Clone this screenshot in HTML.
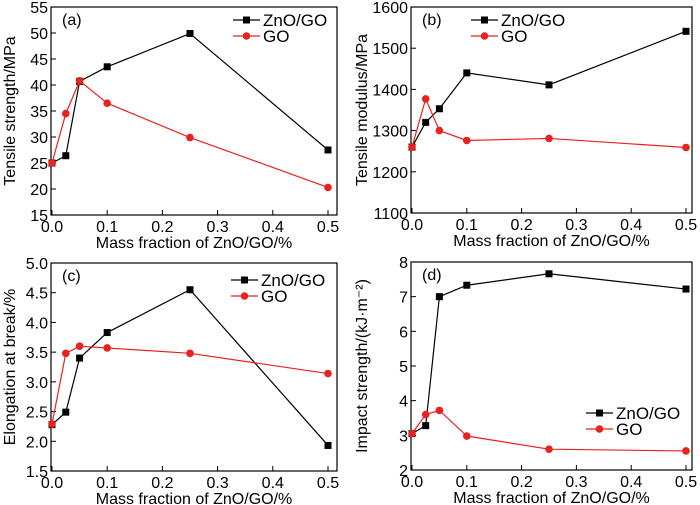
<!DOCTYPE html>
<html><head><meta charset="utf-8"><style>
html,body{margin:0;padding:0;background:#fff;}
svg{display:block;font-family:"Liberation Sans",Arial,sans-serif;}
</style></head><body>
<svg id="fig" width="700" height="505" viewBox="0 0 700 505"></svg>
<script>
const xValues=[0,0.025,0.05,0.1,0.25,0.5];
const xTicks=[0,0.1,0.2,0.3,0.4,0.5];
const aZnO=[25,26.4,40.7,43.5,49.9,27.5];
const aGO=[25,34.5,40.8,36.5,29.9,20.3];
const aTicks=[15,20,25,30,35,40,45,50,55];
const bZnO=[1260,1320,1353,1440,1411,1541];
const bGO=[1260,1377,1300,1276,1281,1259];
const bTicks=[1100,1200,1300,1400,1500,1600];
const cZnO=[2.28,2.49,3.40,3.83,4.55,1.93];
const cGO=[2.29,3.48,3.60,3.57,3.48,3.14];
const cTicks=[1.5,2.0,2.5,3.0,3.5,4.0,4.5,5.0];
const dZnO=[3.05,3.28,7.0,7.33,7.66,7.22];
const dGO=[3.05,3.6,3.72,2.98,2.6,2.55];
const dTicks=[2,3,4,5,6,7,8];

const NS="http://www.w3.org/2000/svg";
const svg=document.getElementById('fig');
function el(tag,attrs,parent,text){const e=document.createElementNS(NS,tag);for(const k in attrs)e.setAttribute(k,attrs[k]);if(text!==undefined)e.textContent=text;(parent||svg).appendChild(e);return e;}

const panels=[
 {id:'a',L:51,R:337,T:7,B:215,x5:328,ticks:aTicks,dec:0,zn:aZnO,go:aGO,ylab:'Tensile strength/MPa',yl:10,lg:[233,20]},
 {id:'b',L:411,R:692,T:7,B:213,x5:686,ticks:bTicks,dec:0,zn:bZnO,go:bGO,ylab:'Tensile modulus/MPa',yl:362,lg:[471,20]},
 {id:'c',L:51,R:337,T:263,B:471,x5:328,ticks:cTicks,dec:1,zn:cZnO,go:cGO,ylab:'Elongation at break/%',yl:10,lg:[231,280]},
 {id:'d',L:411,R:692,T:262,B:470,x5:686,ticks:dTicks,dec:0,zn:dZnO,go:dGO,ylab:'Impact strength/(kJ·m⁻²)',yl:362,lg:[586,413]}
];
panels.forEach(p=>{
 const g=el('g',{},svg);
 
 
 const x0=p.L+1;
 const xs=v=>x0+(p.x5-x0)*v/0.5;
 const ymin=p.ticks[0],ymax=p.ticks[p.ticks.length-1];
 const ys=v=>p.B-(p.B-p.T)*(v-ymin)/(ymax-ymin);
 const frame=el('rect',{x:p.L,y:p.T,width:p.R-p.L,height:p.B-p.T,fill:'none',stroke:'#000','stroke-width':1.2},g);
 
 
 p.ticks.forEach(t=>{
  const y=ys(t);
  el('line',{x1:p.L,x2:p.L+5,y1:y,y2:y,stroke:'#000','stroke-width':1},g);
  const tl=el('text',{x:p.L-3,y:y+6,'text-anchor':'end','font-size':16},g,t.toFixed(p.dec));
  
  
 });
 xTicks.forEach(t=>{
  const x=xs(t);
  el('line',{x1:x,x2:x,y1:p.B,y2:p.B-5,stroke:'#000','stroke-width':1},g);
  const tl=el('text',{x:x,y:p.B+17,'text-anchor':'middle','font-size':16},g,t.toFixed(1));
  
  
 });
 const xl=el('text',{x:(p.L+p.R)/2,y:p.B+33,'text-anchor':'middle','font-size':16},g,'Mass fraction of ZnO/GO/%');
 
 
 const cy=(p.T+p.B)/2;
 const yl=el('text',{x:p.yl,y:cy,'text-anchor':'middle','font-size':16,transform:'rotate(-90 '+(p.yl)+' '+cy+')',dy:5},g,p.ylab);
 
 
 const pl=el('text',{x:p.L+11,y:p.T+18,'font-size':16},g,'('+p.id+')');
 
 
 [['ZnO/GO',p.zn,'#000','sq'],['GO',p.go,'#e8221e','ci']].forEach(([nm,vals,col,mk],si)=>{
  const pts=vals.map((v,i)=>xs(xValues[i])+','+ys(v)).join(' ');
  const line=el('polyline',{points:pts,fill:'none',stroke:col,'stroke-width':1.2},g);
  
  
  vals.forEach((v,i)=>{
   let m;
   if(mk==='sq')m=el('rect',{x:xs(xValues[i])-3.5,y:ys(v)-3.5,width:7,height:7,fill:col},g);
   else m=el('circle',{cx:xs(xValues[i]),cy:ys(v),r:3.8,fill:col},g);
   
   
  });
  const lx=p.lg[0],ly=p.lg[1]+si*16;
  const lg=el('g',{},g);
  
  
  el('line',{x1:lx,x2:lx+27,y1:ly,y2:ly,stroke:col,'stroke-width':1.2},lg);
  if(mk==='sq')el('rect',{x:lx+10,y:ly-3.5,width:7,height:7,fill:col},lg);
  else el('circle',{cx:lx+13.5,cy:ly,r:3.8,fill:col},lg);
  el('text',{x:lx+30,y:ly+6,'font-size':17},lg,nm);
 });
});
</script>
</body></html>
